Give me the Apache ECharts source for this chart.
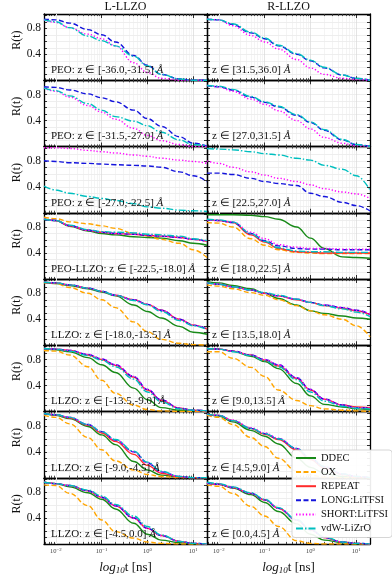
<!DOCTYPE html>
<html>
<head>
<meta charset="utf-8">
<script src="https://cdn.jsdelivr.net/npm/echarts@6/dist/echarts.min.js"></script>
<style>
html, body { margin: 0; padding: 0; background: #fff; }
#main { width: 392px; height: 579px; }
</style>
</head>
<body>
<div id="main"></div>
<script>
// time samples shared by every curve (ns)
var tPoints = [0.0055, 0.01, 0.02, 0.05, 0.1, 0.2, 0.5, 1, 2, 5, 10, 20];
var seriesNames = ['DDEC', 'OX', 'REPEAT', 'LONG:LiTFSI', 'SHORT:LiTFSI', 'vdW-LiZrO'];
var columnTitles = ['L-LLZO', 'R-LLZO'];
var leftZones = ['PEO: z ∈ [-36.0,-31.5]', 'PEO: z ∈ [-31.5,-27.0]', 'PEO: z ∈ [-27.0,-22.5]',
    'PEO-LLZO: z ∈ [-22.5,-18.0]', 'LLZO: z ∈ [-18.0,-13.5]', 'LLZO: z ∈ [-13.5,-9.0]',
    'LLZO: z ∈ [-9.0,-4.5]', 'LLZO: z ∈ [-4.5,0.0]'];
var rightZones = ['z ∈ [31.5,36.0]', 'z ∈ [27.0,31.5]', 'z ∈ [22.5,27.0]', 'z ∈ [18.0,22.5]',
    'z ∈ [13.5,18.0]', 'z ∈ [9.0,13.5]', 'z ∈ [4.5,9.0]', 'z ∈ [0.0,4.5]'];

// R(t) per panel, order: DDEC, OX, REPEAT, LONG, SHORT, vdW (null = not plotted)
var leftRow0 = [null, null, null,
    [0.94, 0.93, 0.88, 0.78, 0.70, 0.59, 0.38, 0.23, 0.09, 0.02, 0.00, 0.00],
    [0.93, 0.89, 0.81, 0.71, 0.64, 0.53, 0.27, 0.12, 0.03, 0.00, 0.00, 0.00],
    [0.93, 0.90, 0.81, 0.68, 0.61, 0.53, 0.37, 0.22, 0.09, 0.02, 0.00, 0.00]];
var rightRow0 = [null, null, null,
    [0.94, 0.93, 0.86, 0.73, 0.64, 0.53, 0.40, 0.30, 0.19, 0.08, 0.03, 0.00],
    [0.94, 0.93, 0.84, 0.69, 0.59, 0.48, 0.32, 0.19, 0.09, 0.03, 0.01, 0.00],
    [0.94, 0.93, 0.87, 0.74, 0.65, 0.54, 0.41, 0.31, 0.20, 0.08, 0.03, 0.00]];
var leftRow1 = [null, null, null,
    [0.92, 0.91, 0.87, 0.81, 0.75, 0.69, 0.56, 0.43, 0.31, 0.15, 0.05, 0.01],
    [0.90, 0.85, 0.76, 0.63, 0.53, 0.42, 0.28, 0.17, 0.09, 0.03, 0.00, 0.00],
    [0.90, 0.86, 0.78, 0.66, 0.56, 0.46, 0.39, 0.32, 0.22, 0.10, 0.03, 0.01]];
var rightRow1 = [null, null, null,
    [0.94, 0.92, 0.87, 0.76, 0.68, 0.61, 0.48, 0.37, 0.25, 0.10, 0.03, 0.00],
    [0.94, 0.92, 0.85, 0.73, 0.65, 0.55, 0.40, 0.27, 0.14, 0.05, 0.01, 0.00],
    [0.94, 0.93, 0.88, 0.77, 0.69, 0.62, 0.49, 0.38, 0.26, 0.11, 0.03, 0.00]];
var leftRow2 = [null, null, null,
    [0.80, 0.79, 0.77, 0.76, 0.75, 0.74, 0.73, 0.72, 0.70, 0.63, 0.57, 0.48],
    [1.00, 1.00, 0.99, 0.96, 0.94, 0.92, 0.89, 0.87, 0.84, 0.81, 0.79, 0.76],
    [0.41, 0.35, 0.30, 0.25, 0.22, 0.19, 0.14, 0.09, 0.07, 0.04, 0.03, 0.02]];
var rightRow2 = [null, null, null,
    [0.61, 0.61, 0.59, 0.53, 0.48, 0.45, 0.42, 0.30, 0.25, 0.16, 0.11, 0.03],
    [0.80, 0.76, 0.70, 0.63, 0.58, 0.53, 0.48, 0.43, 0.37, 0.32, 0.29, 0.22],
    [0.99, 0.98, 0.97, 0.94, 0.91, 0.89, 0.84, 0.81, 0.73, 0.67, 0.57, 0.35]];
var leftRow3 = [
    [0.92, 0.90, 0.81, 0.74, 0.70, 0.68, 0.65, 0.64, 0.63, 0.59, 0.55, 0.52],
    [0.95, 0.93, 0.88, 0.85, 0.82, 0.78, 0.70, 0.66, 0.61, 0.55, 0.45, 0.33],
    [0.92, 0.90, 0.82, 0.75, 0.72, 0.70, 0.69, 0.67, 0.66, 0.64, 0.61, 0.58],
    [0.92, 0.90, 0.82, 0.75, 0.72, 0.70, 0.69, 0.67, 0.66, 0.64, 0.61, 0.58],
    [0.93, 0.90, 0.82, 0.75, 0.72, 0.70, 0.69, 0.68, 0.66, 0.64, 0.61, 0.58],
    [0.92, 0.90, 0.83, 0.76, 0.73, 0.72, 0.71, 0.69, 0.68, 0.66, 0.62, 0.59]];
var rightRow3 = [
    [0.99, 0.99, 0.99, 0.98, 0.96, 0.92, 0.80, 0.63, 0.47, 0.34, 0.33, 0.32],
    [0.87, 0.86, 0.80, 0.62, 0.52, 0.45, 0.41, 0.40, 0.39, 0.39, 0.39, 0.39],
    [0.91, 0.90, 0.87, 0.68, 0.57, 0.47, 0.42, 0.41, 0.40, 0.40, 0.40, 0.40],
    [0.91, 0.90, 0.87, 0.70, 0.59, 0.51, 0.47, 0.46, 0.46, 0.45, 0.45, 0.45],
    [0.91, 0.90, 0.88, 0.72, 0.62, 0.53, 0.49, 0.47, 0.47, 0.46, 0.46, 0.46],
    [0.92, 0.91, 0.88, 0.70, 0.58, 0.48, 0.43, 0.42, 0.42, 0.41, 0.41, 0.41]];
var leftRow4 = [
    [0.97, 0.95, 0.92, 0.87, 0.82, 0.76, 0.62, 0.52, 0.42, 0.29, 0.20, 0.17],
    [0.96, 0.95, 0.89, 0.80, 0.70, 0.58, 0.36, 0.21, 0.09, 0.03, 0.01, 0.00],
    [0.97, 0.96, 0.93, 0.88, 0.83, 0.77, 0.70, 0.63, 0.54, 0.40, 0.31, 0.25],
    [0.97, 0.96, 0.93, 0.88, 0.83, 0.77, 0.70, 0.63, 0.54, 0.40, 0.31, 0.25],
    [0.97, 0.96, 0.93, 0.88, 0.83, 0.77, 0.70, 0.63, 0.54, 0.40, 0.31, 0.25],
    [0.97, 0.96, 0.93, 0.88, 0.83, 0.77, 0.69, 0.62, 0.52, 0.38, 0.30, 0.24]];
var rightRow4 = [
    [0.98, 0.96, 0.92, 0.87, 0.80, 0.72, 0.62, 0.53, 0.49, 0.45, 0.42, 0.40],
    [0.93, 0.91, 0.87, 0.81, 0.77, 0.70, 0.61, 0.53, 0.47, 0.40, 0.30, 0.13],
    [0.96, 0.94, 0.90, 0.85, 0.80, 0.76, 0.70, 0.66, 0.61, 0.57, 0.53, 0.47],
    [0.96, 0.94, 0.90, 0.85, 0.80, 0.76, 0.71, 0.66, 0.62, 0.58, 0.54, 0.48],
    [0.96, 0.94, 0.90, 0.85, 0.80, 0.76, 0.71, 0.66, 0.62, 0.58, 0.54, 0.48],
    [0.96, 0.94, 0.90, 0.85, 0.81, 0.77, 0.71, 0.66, 0.61, 0.56, 0.51, 0.44]];
var leftRow5 = [
    [0.97, 0.95, 0.92, 0.83, 0.72, 0.60, 0.36, 0.18, 0.06, 0.02, 0.01, 0.00],
    [0.94, 0.93, 0.87, 0.69, 0.48, 0.28, 0.10, 0.03, 0.01, 0.00, 0.00, 0.00],
    [0.97, 0.96, 0.94, 0.87, 0.80, 0.71, 0.53, 0.33, 0.17, 0.05, 0.02, 0.01],
    [0.97, 0.96, 0.94, 0.88, 0.81, 0.72, 0.54, 0.34, 0.18, 0.05, 0.02, 0.01],
    [0.97, 0.96, 0.94, 0.88, 0.81, 0.72, 0.54, 0.34, 0.18, 0.05, 0.02, 0.01],
    [0.97, 0.96, 0.93, 0.86, 0.79, 0.69, 0.50, 0.30, 0.15, 0.04, 0.02, 0.01]];
var rightRow5 = [
    [0.97, 0.96, 0.93, 0.85, 0.77, 0.66, 0.43, 0.24, 0.11, 0.07, 0.04, 0.03],
    [0.92, 0.92, 0.82, 0.68, 0.54, 0.33, 0.17, 0.09, 0.04, 0.02, 0.01, 0.00],
    [0.97, 0.96, 0.93, 0.87, 0.79, 0.70, 0.51, 0.33, 0.19, 0.10, 0.07, 0.06],
    [0.97, 0.96, 0.93, 0.87, 0.80, 0.72, 0.52, 0.34, 0.19, 0.10, 0.06, 0.05],
    [0.97, 0.96, 0.93, 0.87, 0.80, 0.72, 0.52, 0.34, 0.19, 0.10, 0.06, 0.05],
    [0.97, 0.96, 0.92, 0.86, 0.78, 0.69, 0.49, 0.30, 0.16, 0.08, 0.05, 0.04]];
var leftRow6 = [
    [0.99, 0.96, 0.91, 0.79, 0.66, 0.51, 0.25, 0.12, 0.04, 0.01, 0.00, 0.00],
    [0.96, 0.93, 0.83, 0.62, 0.43, 0.26, 0.12, 0.05, 0.02, 0.00, 0.00, 0.00],
    [0.99, 0.97, 0.92, 0.81, 0.69, 0.56, 0.36, 0.19, 0.07, 0.01, 0.00, 0.00],
    [0.99, 0.97, 0.93, 0.82, 0.71, 0.58, 0.40, 0.23, 0.09, 0.02, 0.00, 0.00],
    [0.99, 0.97, 0.93, 0.82, 0.71, 0.58, 0.40, 0.23, 0.09, 0.02, 0.00, 0.00],
    [0.99, 0.97, 0.93, 0.82, 0.71, 0.59, 0.41, 0.24, 0.10, 0.02, 0.00, 0.00]];
var rightRow6 = [
    [0.98, 0.95, 0.86, 0.73, 0.64, 0.52, 0.30, 0.16, 0.07, 0.02, 0.00, 0.00],
    [0.96, 0.93, 0.82, 0.62, 0.48, 0.30, 0.10, 0.04, 0.01, 0.00, 0.00, 0.00],
    [0.98, 0.96, 0.88, 0.76, 0.67, 0.59, 0.43, 0.28, 0.15, 0.05, 0.01, 0.00],
    [0.98, 0.96, 0.88, 0.76, 0.68, 0.60, 0.45, 0.30, 0.17, 0.06, 0.02, 0.00],
    [0.98, 0.96, 0.89, 0.77, 0.69, 0.61, 0.45, 0.30, 0.17, 0.06, 0.02, 0.00],
    [0.98, 0.96, 0.88, 0.76, 0.68, 0.60, 0.45, 0.30, 0.17, 0.06, 0.02, 0.00]];
var leftRow7 = [
    [0.95, 0.93, 0.88, 0.79, 0.69, 0.54, 0.32, 0.15, 0.06, 0.02, 0.00, 0.00],
    [0.91, 0.90, 0.78, 0.59, 0.37, 0.19, 0.09, 0.03, 0.01, 0.00, 0.00, 0.00],
    [0.95, 0.93, 0.90, 0.82, 0.72, 0.59, 0.40, 0.24, 0.13, 0.04, 0.01, 0.00],
    [0.95, 0.93, 0.90, 0.82, 0.72, 0.59, 0.40, 0.24, 0.13, 0.04, 0.01, 0.00],
    [0.95, 0.93, 0.90, 0.82, 0.72, 0.59, 0.40, 0.24, 0.13, 0.04, 0.01, 0.00],
    [0.95, 0.93, 0.90, 0.83, 0.74, 0.61, 0.43, 0.27, 0.14, 0.04, 0.01, 0.00]];
var rightRow7 = [
    [0.94, 0.92, 0.86, 0.76, 0.64, 0.50, 0.31, 0.15, 0.06, 0.02, 0.00, 0.00],
    [0.91, 0.89, 0.78, 0.58, 0.43, 0.27, 0.05, 0.01, 0.00, 0.00, 0.00, 0.00],
    [0.94, 0.92, 0.87, 0.78, 0.68, 0.55, 0.37, 0.22, 0.10, 0.03, 0.01, 0.00],
    [0.94, 0.92, 0.87, 0.78, 0.68, 0.55, 0.37, 0.22, 0.10, 0.03, 0.01, 0.00],
    [0.94, 0.92, 0.87, 0.78, 0.68, 0.55, 0.37, 0.22, 0.10, 0.03, 0.01, 0.00],
    [0.95, 0.93, 0.88, 0.79, 0.69, 0.56, 0.38, 0.23, 0.11, 0.03, 0.01, 0.00]];

var panelRows = [
    [leftRow0, rightRow0], [leftRow1, rightRow1], [leftRow2, rightRow2], [leftRow3, rightRow3],
    [leftRow4, rightRow4], [leftRow5, rightRow5], [leftRow6, rightRow6], [leftRow7, rightRow7]
];

var FONT = 'Liberation Serif';
var X_MIN = 0.0055, X_MAX = 20, Y_MIN = 0, Y_MAX = 1.02;
var PANEL_TOP = 14, PANEL_H = 66.25, PANEL_W = 163;
var COL_LEFT = [44, 207];

var lineStyles = [
    { color: '#188a18', type: 'solid' },
    { color: '#ffa500', type: [5, 2.5] },
    { color: '#ff2b2b', type: 'solid' },
    { color: '#1414dc', type: [5, 2.5] },
    { color: '#ff00ff', type: [1.3, 2] },
    { color: '#00bfbf', type: [7, 2, 1.5, 2] }
];

// log minor positions 2..9 x decade inside the axis range
var minorX = [];
for (var d = -3; d <= 1; d++) {
    for (var k = 2; k <= 9; k++) {
        var mv = k * Math.pow(10, d);
        if (mv > X_MIN && mv < X_MAX) minorX.push(mv);
    }
}

function powLabel(v) {
    var lg = Math.log(v) / Math.LN10;
    var e = Math.round(lg);
    if (Math.abs(lg - e) > 1e-6) return '';
    return '{b|10}{p|' + (e < 0 ? '\u2212' + (-e) : e) + '}';
}

function yLabel(v) {
    var n = Math.round(v * 10);
    return (n === 4 || n === 8) && Math.abs(v * 10 - n) < 1e-6 ? (n / 10).toFixed(1) : '';
}

var chart = echarts.init(document.getElementById('main'));
var grids = [], xAxes = [], yAxes = [], series = [], titles = [];

for (var ci = 0; ci < 2; ci++) {
    titles.push({
        text: columnTitles[ci], left: COL_LEFT[ci] + PANEL_W / 2, top: 1, textAlign: 'center', padding: 0,
        textStyle: { fontFamily: FONT, fontSize: 12, fontWeight: 'normal', color: '#111' }
    });
}

for (var r = 0; r < 8; r++) {
    for (var c = 0; c < 2; c++) {
        var g = grids.length;
        var panelTop = PANEL_TOP + r * PANEL_H;
        var bottomRow = r === 7;
        grids.push({ left: COL_LEFT[c], top: panelTop, width: PANEL_W, height: PANEL_H });

        xAxes.push({
            type: 'log', logBase: 10, gridIndex: g, position: 'bottom',
            min: X_MIN, max: X_MAX, splitNumber: 4,
            axisLine: { show: true, onZero: false, lineStyle: { color: '#000', width: 1.3 } },
            axisTick: { show: true, inside: true, length: 4, lineStyle: { color: '#000', width: 0.8 } },
            axisLabel: {
                show: bottomRow, margin: 3, formatter: powLabel,
                rich: {
                    b: { fontFamily: FONT, fontSize: 6.5, lineHeight: 8, padding: [3, 0, 0, 0], verticalAlign: 'bottom', color: '#444' },
                    p: { fontFamily: FONT, fontSize: 4.8, lineHeight: 6, verticalAlign: 'top', color: '#444' }
                }
            },
            splitLine: { show: true, lineStyle: { color: '#d9d9d9', width: 0.7 } },
            name: bottomRow ? '{i|log}{s|10}{n|t [ns]}' : '',
            nameLocation: 'middle', nameGap: 17,
            nameTextStyle: {
                rich: {
                    i: { fontFamily: FONT, fontStyle: 'italic', fontSize: 13, lineHeight: 14, verticalAlign: 'top', color: '#111' },
                    s: { fontFamily: FONT, fontStyle: 'italic', fontSize: 9, lineHeight: 10, padding: [6, 0, 0, 0], verticalAlign: 'bottom', color: '#111' },
                    n: { fontFamily: FONT, fontSize: 13, lineHeight: 14, verticalAlign: 'top', color: '#111' }
                }
            }
        });
        xAxes.push({
            type: 'log', logBase: 10, gridIndex: g, position: 'top',
            min: X_MIN, max: X_MAX, splitNumber: 4,
            axisLine: { show: true, onZero: false, lineStyle: { color: '#000', width: 1.3 } },
            axisTick: { show: true, inside: true, length: 4, lineStyle: { color: '#000', width: 0.8 } },
            axisLabel: { show: false },
            splitLine: { show: false }
        });
        yAxes.push({
            type: 'value', gridIndex: g, position: 'left',
            min: Y_MIN, max: Y_MAX, interval: 0.1,
            axisLine: { show: true, onZero: false, lineStyle: { color: '#000', width: 1.3 } },
            axisTick: { show: true, inside: true, length: 3, lineStyle: { color: '#000', width: 0.8 } },
            axisLabel: { show: c === 0, margin: 3, fontFamily: FONT, fontSize: 11.5, color: '#111', formatter: yLabel },
            splitLine: { show: true, lineStyle: { color: '#e3e3e3', width: 0.6 } },
            name: c === 0 ? 'R(t)' : '', nameLocation: 'middle', nameGap: 17, nameRotate: 90,
            nameTextStyle: { fontFamily: FONT, fontSize: 12, color: '#111', padding: [0, 0, 0, 14] }
        });
        yAxes.push({
            type: 'value', gridIndex: g, position: 'right',
            min: Y_MIN, max: Y_MAX, interval: 0.1,
            axisLine: { show: true, onZero: false, lineStyle: { color: '#000', width: 1.3 } },
            axisTick: { show: true, inside: true, length: 3, lineStyle: { color: '#000', width: 0.8 } },
            axisLabel: { show: false },
            splitLine: { show: false }
        });

        // minor log grid lines and minor ticks (bottom + top), drawn through the axes
        var mlData = minorX.map(function (v) { return { xAxis: v }; });
        minorX.forEach(function (v) {
            mlData.push([{ coord: [v, Y_MIN], lineStyle: { color: '#000', width: 0.7 } }, { coord: [v, 0.032] }]);
            mlData.push([{ coord: [v, Y_MAX], lineStyle: { color: '#000', width: 0.7 } }, { coord: [v, Y_MAX - 0.032] }]);
        });
        series.push({
            name: 'grid' + g, type: 'line', xAxisIndex: 2 * g, yAxisIndex: 2 * g,
            data: [[1, -5]], symbol: 'none', lineStyle: { opacity: 0 }, silent: true, animation: false,
            markLine: {
                z: 1, silent: true, animation: false, symbol: ['none', 'none'], label: { show: false },
                lineStyle: { color: '#ececec', width: 0.6, type: 'solid' },
                data: mlData
            }
        });

        var rowData = panelRows[r][c];
        for (var s = 0; s < seriesNames.length; s++) {
            if (!rowData[s]) continue;
            var vals = rowData[s];
            series.push({
                name: seriesNames[s], type: 'line', xAxisIndex: 2 * g, yAxisIndex: 2 * g,
                data: tPoints.map(function (t, i) { return [t, vals[i]]; }),
                symbol: 'none', showSymbol: false, smooth: 0.4, smoothMonotone: 'x',
                lineStyle: { width: 1.4, color: lineStyles[s].color, type: lineStyles[s].type },
                itemStyle: { color: lineStyles[s].color },
                animation: false, silent: true
            });
        }

        var zone = c === 0 ? leftZones[r] : rightZones[r];
        titles.push({
            text: '{t|' + zone + ' }{a|Å}',
            left: COL_LEFT[c] + (c === 0 ? 7 : 5), top: panelTop + PANEL_H - 16, padding: 0,
            textStyle: {
                fontWeight: 'normal',
                rich: {
                    t: { fontFamily: FONT, fontSize: 11, fontWeight: 'normal', lineHeight: 12, color: '#111' },
                    a: { fontFamily: FONT, fontSize: 11, fontWeight: 'normal', lineHeight: 12, fontStyle: 'italic', color: '#111' }
                }
            }
        });
    }
}

chart.setOption({
    animation: false,
    backgroundColor: '#fff',
    title: titles,
    legend: {
        data: seriesNames,
        orient: 'vertical', left: 292, top: 450,
        itemWidth: 20, itemHeight: 8, itemGap: 2.1,
        padding: [2, 4, 3, 3],
        itemStyle: { opacity: 0, borderWidth: 0 },
        backgroundColor: 'rgba(255,255,255,0.92)', borderColor: '#cccccc', borderWidth: 0.8, borderRadius: 3,
        textStyle: { fontFamily: FONT, fontSize: 10.5, lineHeight: 12, color: '#111' },
        selectedMode: false
    },
    grid: grids,
    xAxis: xAxes,
    yAxis: yAxes,
    series: series
});
</script>
</body>
</html>
